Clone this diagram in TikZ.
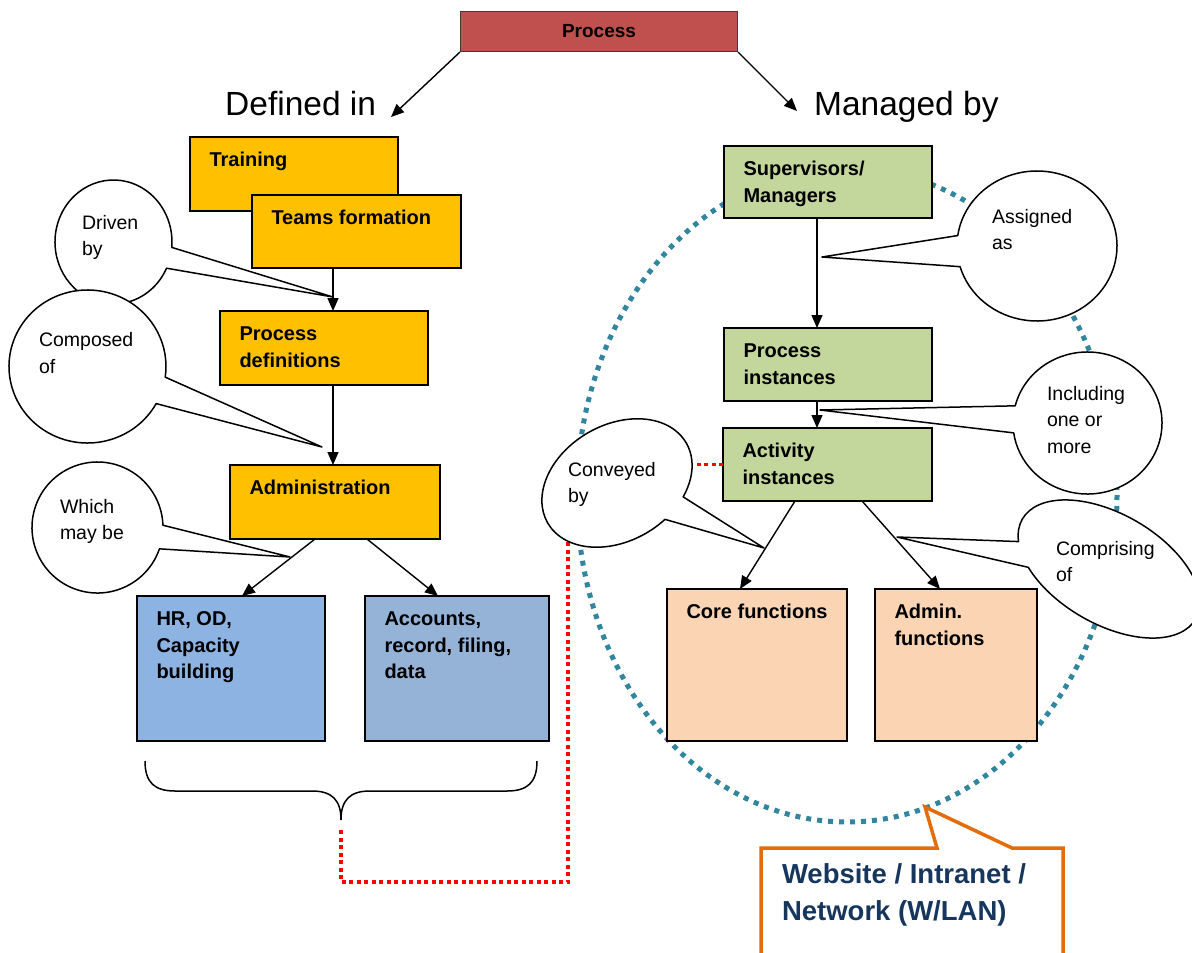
\documentclass[tikz,border=0pt]{standalone}
\usepackage{fontspec}
\setmainfont{Liberation Sans}
\usetikzlibrary{arrows.meta}

\definecolor{procred}{HTML}{C0504D}
\definecolor{procedge}{HTML}{3A3A3A}
\definecolor{gold}{HTML}{FFC000}
\definecolor{hrblue}{HTML}{8DB3E2}
\definecolor{accblue}{HTML}{95B3D7}
\definecolor{leaf}{HTML}{C3D69B}
\definecolor{peach}{HTML}{FBD4B4}
\definecolor{tealring}{HTML}{31859C}
\definecolor{weborange}{HTML}{E46C0A}
\definecolor{navytext}{HTML}{17365D}

% invisible struts that fix the height of the first text line
\newcommand{\capB}{\rule{0pt}{20pt}}
\newcommand{\capR}{\rule{0pt}{19.5pt}}
\newcommand{\capW}{\rule{0pt}{27.5pt}}

% speech bubble: centre x, centre y, x radius, y radius, rotation,
% start angle, end angle of the outline, name of the pointer tip
\newcommand{\bubble}[8]{%
  \begin{scope}[rotate around={#5:(#1,#2)}]
    \draw[bubbleshape] ({#1+#3*cos(#6)},{#2+#4*sin(#6)})
      arc[start angle=#6, end angle=#7, x radius=#3, y radius=#4]
      -- (#8) -- cycle;
  \end{scope}}

\begin{document}
\begin{tikzpicture}[x=1pt,y=-1pt,
  panel/.style={draw=black, line width=1.8pt, anchor=north west,
    inner sep=0pt, outer sep=0pt},
  boxtext/.style={anchor=north west, inner sep=0pt, outer sep=0pt, align=left,
    font=\bfseries\fontsize{20}{26.7}\selectfont},
  bubtext/.style={anchor=north west, inner sep=0pt, outer sep=0pt, align=left,
    font=\fontsize{19.5}{26.5}\selectfont},
  webtext/.style={anchor=north west, inner sep=0pt, outer sep=0pt, align=left,
    text=navytext, font=\bfseries\fontsize{27.5}{37}\selectfont},
  heading/.style={anchor=base west, inner sep=0pt, font=\fontsize{33.5}{40}\selectfont},
  arr/.style={line width=1.4pt, -{Triangle[length=13pt,width=11pt]}},
  bubbleshape/.style={draw=black, line width=1.5pt, fill=white, line join=round},
  tealdots/.style={draw=tealring, line width=5pt, dash pattern=on 5pt off 6pt},
  reddots/.style={draw=red, line width=3.5pt, dash pattern=on 4pt off 3.5pt},
]
\clip (0,0) rectangle (1192,953);
\fill[white] (0,0) rectangle (1192,953);

% ring of the network
\draw[tealdots] (847,495) ellipse [x radius=270, y radius=327];

% title box and headings
\node[draw=procedge, line width=1pt, fill=procred, anchor=north west,
  minimum width=277pt, minimum height=40pt, inner sep=0pt,
  font=\bfseries\fontsize{19}{22}\selectfont] (process) at (460,11) {Process};
\node[heading] (definedin) at (225,115) {Defined in};
\node[heading] (managedby) at (814,115) {Managed by};
\coordinate (defTip) at (391,117);
\coordinate (manTip) at (797,111);

% left column
\node[panel, fill=gold, minimum width=208pt, minimum height=74pt] (training) at (190,137) {};
\node[panel, fill=gold, minimum width=209pt, minimum height=73pt] (teams) at (252,195) {};
\node[panel, fill=gold, minimum width=208pt, minimum height=74pt] (procdef) at (220,311) {};
\node[panel, fill=gold, minimum width=210pt, minimum height=74pt] (admin) at (230,465) {};
\node[panel, fill=hrblue, minimum width=188pt, minimum height=145pt] (hr) at (137,596) {};
\node[panel, fill=accblue, minimum width=184pt, minimum height=145pt] (accounts) at (365,596) {};

% right column
\node[panel, fill=leaf, minimum width=208pt, minimum height=72pt] (sup) at (724,146) {};
\node[panel, fill=leaf, minimum width=208pt, minimum height=73pt] (pinst) at (724,328) {};
\node[panel, fill=leaf, minimum width=209pt, minimum height=73pt] (act) at (723,428) {};
\node[panel, fill=peach, minimum width=180pt, minimum height=152pt] (core) at (667,589) {};
\node[panel, fill=peach, minimum width=162pt, minimum height=152pt] (adminf) at (875,589) {};

% box captions
\node[boxtext] (trainingT) at ([xshift=19.5pt,yshift=-9.5pt]training.north west) {\capB Training};
\node[boxtext] (teamsT) at ([xshift=19.5pt,yshift=-9.5pt]teams.north west) {\capB Teams formation};
\node[boxtext] (procdefT) at ([xshift=19.5pt,yshift=-9.5pt]procdef.north west) {\capB Process\\definitions};
\node[boxtext] (adminT) at ([xshift=19.5pt,yshift=-9.5pt]admin.north west) {\capB Administration};
\node[boxtext] (hrT) at ([xshift=19.5pt,yshift=-9.5pt]hr.north west) {\capB HR, OD,\\Capacity\\building};
\node[boxtext] (accountsT) at ([xshift=19.5pt,yshift=-9.5pt]accounts.north west) {\capB Accounts,\\record, filing,\\data};
\node[boxtext] (supT) at ([xshift=19.5pt,yshift=-9.5pt]sup.north west) {\capB Supervisors/\\Managers};
\node[boxtext] (pinstT) at ([xshift=19.5pt,yshift=-9.5pt]pinst.north west) {\capB Process\\instances};
\node[boxtext] (actT) at ([xshift=19.5pt,yshift=-9.5pt]act.north west) {\capB Activity\\instances};
\node[boxtext] (coreT) at ([xshift=19.5pt,yshift=-9.5pt]core.north west) {\capB Core functions};
\node[boxtext] (adminfT) at ([xshift=19.5pt,yshift=-9.5pt]adminf.north west) {\capB Admin.\\functions};

% connectors
\draw[arr] (process.south west) -- (defTip);
\draw[arr] (process.south east) -- (manTip);
\draw[arr] ([xshift=81pt]teams.south west) -- ([xshift=113pt]procdef.north west);
\draw[arr] ([xshift=113pt]procdef.south west) -- ([xshift=103pt]admin.north west);
\draw[arr] ([xshift=85pt]admin.south west) -- ([xshift=105pt]hr.north west);
\draw[arr] ([xshift=137pt]admin.south west) -- ([xshift=73pt]accounts.north west);
\draw[arr] ([xshift=93pt]sup.south west) -- ([xshift=93pt]pinst.north west);
\draw[arr] ([xshift=93pt]pinst.south west) -- ([xshift=94pt]act.north west);
\draw[arr] ([xshift=72pt]act.south west) -- ([xshift=73pt]core.north west);
\draw[arr] ([xshift=139pt]act.south west) -- ([xshift=65pt]adminf.north west);

% brace under the two support boxes
\coordinate (braceTip) at (341,820);
\draw[line width=1.5pt] (145,761) .. controls (145,783) and (155,791) .. (175,791)
  -- (312,791) .. controls (332,791) and (341,800) .. (braceTip)
  .. controls (341,800) and (350,791) .. (370,791)
  -- (507,791) .. controls (527,791) and (537,783) .. (537,761);

% dotted link from activity instances to the support functions
\coordinate (redCorner) at (568,882);
\draw[reddots] (act.west) -| (redCorner) -| ([yshift=-10pt]braceTip);

% speech bubbles
\coordinate (tipDriven) at (333,297);
\coordinate (tipComposed) at (322,447);
\coordinate (tipWhich) at (290,557);
\coordinate (tipAssigned) at (822,257);
\coordinate (tipIncluding) at (820,410);
\coordinate (tipConveyed) at (764,548);
\coordinate (tipComprising) at (897,537);

\bubble{113.5}{242}{58.5}{62}{0}{25}{365}{tipDriven}
\bubble{87.5}{366.5}{78.5}{76.5}{0}{29}{368}{tipComposed}
\bubble{97.5}{527.5}{65.5}{65.5}{0}{19}{358}{tipWhich}
\bubble{1037}{246}{80}{75}{0}{188}{524}{tipAssigned}
\bubble{1087.5}{423}{74.5}{71}{0}{194}{532}{tipIncluding}
\bubble{617}{483}{80}{58}{30}{73}{411}{tipConveyed}
\bubble{1109}{569}{100}{55}{-30}{157}{495}{tipComprising}

\node[bubtext] (drivenT) at (82,209.5) {\capR Driven\\by};
\node[bubtext] (composedT) at (39,327) {\capR Composed\\of};
\node[bubtext] (whichT) at (60,493.5) {\capR Which\\may be};
\node[bubtext] (assignedT) at (992,203.5) {\capR Assigned\\as};
\node[bubtext] (includingT) at (1047,380.5) {\capR Including\\one or\\more};
\node[bubtext] (conveyedT) at (568,456.5) {\capR Conveyed\\by};
\node[bubtext] (comprisingT) at (1056,535.5) {\capR Comprising\\of};

% network call-out
\coordinate (webTip) at (925,807);
\draw[draw=weborange, line width=3.5pt, fill=white, line join=miter]
  (761,848) -- (937,848) -- (webTip) -- (1012,848) -- (1063,848)
  -- (1063,975) -- (761,975) -- cycle;
\node[webtext] (webT) at (782,855.5) {\capW Website / Intranet /\\Network (W/LAN)};
\end{tikzpicture}
\end{document}
